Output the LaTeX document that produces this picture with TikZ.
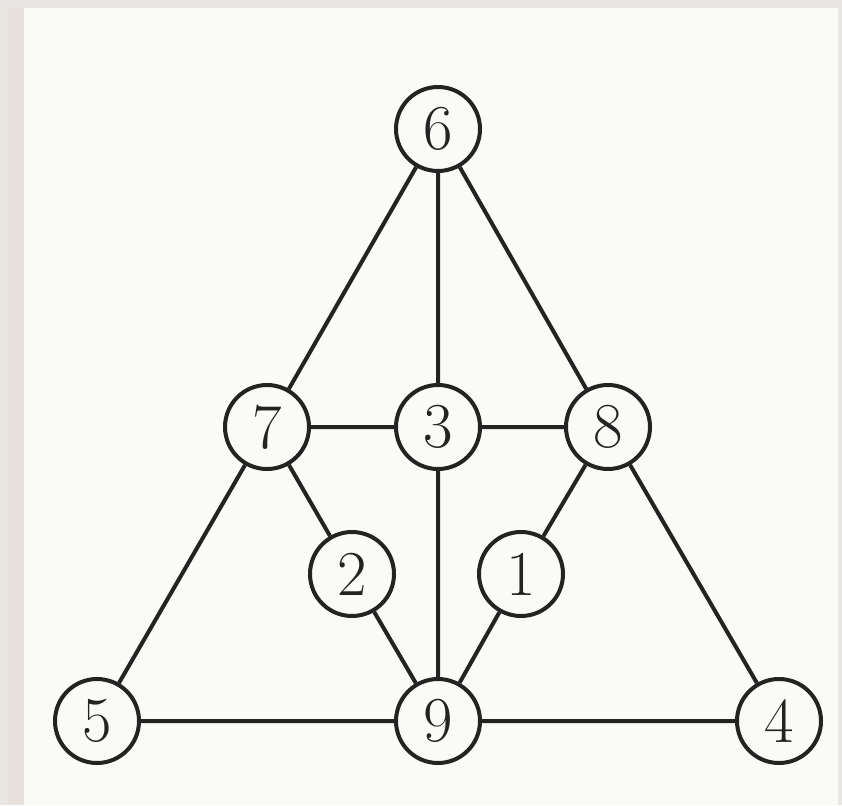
\documentclass[tikz,border=0pt]{standalone}
\begin{document}
\begin{tikzpicture}[x=1pt,y=-1pt,
  vert/.style={circle,draw=inkc,line width=4pt,fill=paperc,minimum size=84pt,inner sep=0pt,
    font=\fontsize{64}{64}\selectfont,text=inkc},
  edge/.style={draw=inkc,line width=4pt}]
\definecolor{paperc}{RGB}{250,250,247}
\definecolor{framec}{RGB}{234,230,228}
\definecolor{stripc}{RGB}{232,224,220}
\definecolor{inkc}{RGB}{35,35,35}
\useasboundingbox (0,0) rectangle (842,805);
\fill[framec] (0,0) rectangle (842,805);
\fill[stripc] (8,8) rectangle (24,805);
\fill[paperc] (24,8) rectangle (838,805);
\node[vert] (n6) at (438,129) {6};
\node[vert] (n7) at (267,427) {7};
\node[vert] (n3) at (438,427) {3};
\node[vert] (n8) at (608,427) {8};
\node[vert] (n2) at (352,574) {2};
\node[vert] (n1) at (521,574) {1};
\node[vert] (n5) at (97,721) {5};
\node[vert] (n9) at (438,721) {9};
\node[vert] (n4) at (779,721) {4};
\path[edge] (n6)--(n7) (n6)--(n3) (n6)--(n8)
  (n7)--(n3) (n3)--(n8) (n7)--(n2) (n2)--(n9) (n8)--(n1) (n1)--(n9)
  (n3)--(n9) (n7)--(n5) (n8)--(n4) (n5)--(n9) (n9)--(n4);
\end{tikzpicture}
\end{document}
